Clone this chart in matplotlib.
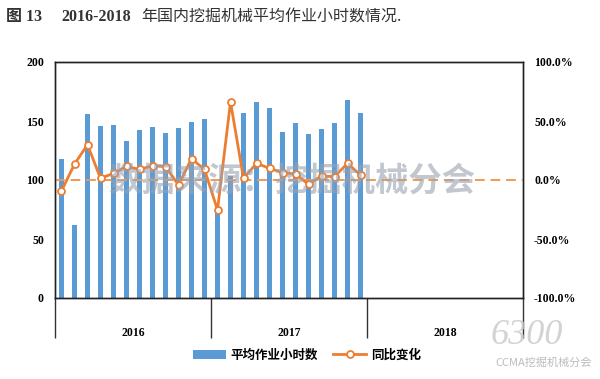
import matplotlib.pyplot as plt
import numpy as np

plt.rcParams['font.family'] = ['Liberation Serif', 'Noto Sans CJK SC']

years = ["2016", "2017", "2018"]
months_per_year = 12

# average working hours per month (2016 Jan .. 2017 Dec)
avg_hours = [118, 62, 156, 146, 147, 133, 142, 145, 140, 144, 149, 152,
             75, 103, 157, 166, 161, 141, 148, 139, 143, 148, 168, 157]
# year-on-year change, %
yoy_change = [-9.3, 13.5, 29.9, 1.4, 5.6, 11.5, 9.0, 12.1, 11.3, -4.2, 18.0, 9.0,
              -25.4, 66.2, 1.4, 14.1, 9.9, 6.2, 5.1, -3.7, 3.4, 2.8, 14.1, 4.2]

left_ticks = [0, 50, 100, 150, 200]
right_ticks = [-100, -50, 0, 50, 100]

bar_color = "#5B9BD5"
line_color = "#ED7D31"

fig = plt.figure(figsize=(6, 3.79), dpi=100)
ax = fig.add_axes([55 / 600, 81 / 379, 468 / 600, 236 / 379])

n_slots = len(years) * months_per_year
x = np.arange(len(avg_hours)) + 0.5
ax.bar(x, avg_hours, width=0.42, color=bar_color, zorder=2,
       label="平均作业小时数")
ax.set_xlim(0, n_slots)
ax.set_ylim(0, 200)
ax.set_yticks(left_ticks)
ax.set_yticklabels([str(t) for t in left_ticks], fontweight="bold", fontsize=8.5)
ax.tick_params(axis="y", length=0, pad=8)

# year separators and labels on the category axis
ax.set_xticks(np.arange(0, n_slots + 1, months_per_year), minor=True)
ax.set_xticks(np.arange(months_per_year / 2, n_slots, months_per_year))
ax.set_xticklabels(years, fontweight="bold", fontsize=8.5)
ax.tick_params(axis="x", which="major", length=0, pad=21)
ax.tick_params(axis="x", which="minor", length=29, width=1.0, color="#333333")

for s in ax.spines.values():
    s.set_linewidth(1.0)
    s.set_color("#222222")

ax2 = ax.twinx()
ax2.set_ylim(-100, 100)
ax2.axhline(0, color="#EE9A55", linestyle=(0, (5, 3)), linewidth=1.4, zorder=1)
ax2.plot(x, yoy_change, color=line_color, linewidth=2.0, marker="o",
         markersize=5, markerfacecolor="white", markeredgecolor=line_color,
         markeredgewidth=1.3, zorder=3, label="同比变化")
ax2.set_yticks(right_ticks)
ax2.set_yticklabels([f"{t:.1f}%" for t in right_ticks], fontweight="bold",
                    fontsize=8.5)
ax2.tick_params(axis="y", length=0, pad=8)
for s in ax2.spines.values():
    s.set_linewidth(1.0)
    s.set_color("#222222")

# watermarks
fig.text(292 / 600, 1 - 182 / 379, "数据来源：挖掘机械分会", fontsize=24,
         color="#9AA3B0", alpha=0.6, ha="center", va="center",
         family="Noto Sans CJK SC", fontweight="bold", zorder=10)
fig.text(527 / 600, 1 - 336 / 379, "6300", fontsize=26, color="#C8C8C8",
         alpha=0.8, ha="center", va="center", style="italic",
         family="Liberation Serif", zorder=10)
fig.text(592 / 600, 1 - 363 / 379, "CCMA挖掘机械分会", fontsize=8,
         color="#BBBBBB", ha="right", va="center", family="Noto Sans CJK SC",
         zorder=10)

# legend
h1, l1 = ax.get_legend_handles_labels()
h2, l2 = ax2.get_legend_handles_labels()
fig.legend(h1 + h2, l1 + l2, loc="center", bbox_to_anchor=(307 / 600, 1 - 355 / 379),
           ncol=2, frameon=False, handlelength=2.6, columnspacing=1.2,
           handletextpad=0.4,
           prop={"family": "Noto Sans CJK SC", "weight": "bold", "size": 9})

# title in three parts: bold figure number, bold years, regular Chinese text
ty = 1 - 17 / 379
fig.text(6 / 600, ty, "图 13", fontsize=11.5, color="#333333", ha="left",
         va="center", family=["Liberation Serif", "Noto Sans CJK SC"],
         fontweight="bold")
fig.text(61 / 600, ty, "2016-2018", fontsize=11.5, color="#333333", ha="left",
         va="center", family="Liberation Serif", fontweight="bold")
fig.text(141 / 600, ty, "年国内挖掘机械平均作业小时数情况.", fontsize=11.5,
         color="#333333", ha="left", va="center", family="Noto Sans CJK SC")

fig.savefig("out.png", dpi=100)
